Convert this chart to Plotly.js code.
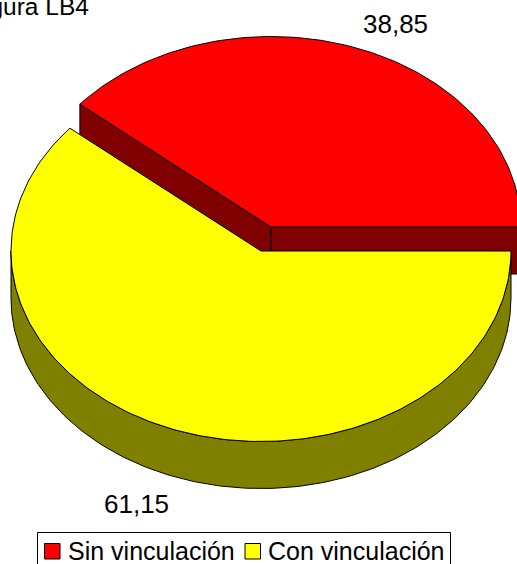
<!DOCTYPE html>
<html><head><meta charset="utf-8">
<script src="https://cdn.plot.ly/plotly-3.0.1.min.js"></script>
<style>html,body{margin:0;padding:0;background:#fff;overflow:hidden}#c{width:517px;height:564px}</style>
</head><body><div id="c"></div>
<script>
const categories = ["Sin vinculación", "Con vinculación"];
const values = [38.85, 61.15];
const valueLabels = ["38,85", "61,15"];
const topColors = ["#ff0000", "#ffff00"];
const sideColors = ["#800000", "#808000"];

const FONT = "Liberation Sans, Arial, sans-serif";
const RX = 250, RY = 190.5, DEPTH = 47;
const centers = [[271, 227], [261, 251]];
const cutDeg = values[0] / (values[0] + values[1]) * 360;

function pt(c, deg, drop) {
  const a = deg * Math.PI / 180;
  return [c[0] + RX * Math.cos(a), c[1] - RY * Math.sin(a) + (drop || 0)];
}
function arc(c, from, to, drop) {
  const n = Math.max(2, Math.ceil(Math.abs(to - from)));
  const out = [];
  for (let i = 0; i <= n; i++) out.push(pt(c, from + (to - from) * i / n, drop));
  return out;
}
function poly(points, fill) {
  return {
    type: "scatter", mode: "lines", hoverinfo: "skip", showlegend: false,
    x: points.map(p => p[0]), y: points.map(p => p[1]),
    fill: "toself", fillcolor: fill,
    line: {color: "#000", width: 1, shape: "linear"}
  };
}
const r = centers[0], y = centers[1];
const traces = [
  poly([r, pt(r, 0), pt(r, 0, DEPTH), [r[0], r[1] + DEPTH], r], sideColors[0]),
  poly([r, pt(r, cutDeg), pt(r, cutDeg, DEPTH), [r[0], r[1] + DEPTH], r], sideColors[0]),
  poly([r].concat(arc(r, 0, cutDeg)).concat([r]), topColors[0]),
  poly(arc(y, 180, 360).concat(arc(y, 360, 180, DEPTH)).concat([pt(y, 180)]), sideColors[1]),
  poly([y].concat(arc(y, cutDeg, 360)).concat([y]), topColors[1]),
];

const textNote = (text, x, yy, xanchor, size) => ({
  text, x, y: yy, xref: "x", yref: "y", showarrow: false, xanchor, yanchor: "middle",
  font: {family: FONT, size, color: "#000"}
});
const rect = (x0, y0, x1, y1, fill) => ({
  type: "rect", xref: "x", yref: "y", x0, y0, x1, y1, fillcolor: fill,
  line: {color: "#000", width: 1}, layer: "above"
});

const layout = {
  width: 517, height: 564, margin: {l: 0, r: 0, t: 0, b: 0, autoexpand: false},
  paper_bgcolor: "#fff", plot_bgcolor: "#fff",
  font: {family: FONT, color: "#000", size: 25},
  xaxis: {range: [0, 517], visible: false, fixedrange: true},
  yaxis: {range: [564, 0], visible: false, fixedrange: true},
  showlegend: false,
  shapes: [
    rect(37.5, 532.5, 450.5, 572, "#ffffff"),
    rect(44.5, 543.5, 60, 559, topColors[0]),
    rect(245, 543.5, 260.5, 559, topColors[1])
  ],
  annotations: [
    textNote(valueLabels[0], 395, 24, "center", 26),
    textNote(valueLabels[1], 136, 504, "center", 26),
    textNote("Figura LB4", 91, 6, "right", 24.5),
    textNote(categories[0], 66, 551, "left", 25),
    textNote(categories[1], 266, 551, "left", 25)
  ]
};
Plotly.newPlot("c", traces, layout, {displayModeBar: false, staticPlot: true});
</script></body></html>
